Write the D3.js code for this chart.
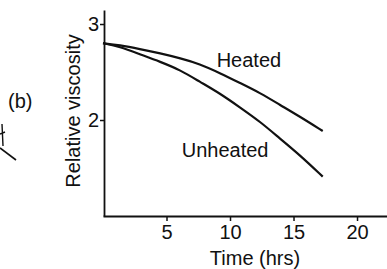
<!DOCTYPE html>
<html><head><meta charset="utf-8">
<script src="https://cdn.jsdelivr.net/npm/d3@7"></script>
<style>
html,body{margin:0;padding:0;background:#fff;}
svg{display:block;}
text{font-family:"Liberation Sans",Arial,sans-serif;fill:#111;}
</style></head>
<body>
<svg id="chart" width="387" height="269"></svg>
<script>
const times = [0, 1.3, 2.9, 4.5, 6.1, 7.6, 9.2, 10.8, 12.4, 13.9, 15.5, 17.3];
const heated = [2.80, 2.78, 2.74, 2.695, 2.643, 2.585, 2.49, 2.385, 2.28, 2.16, 2.035, 1.885];
const unheated = [2.80, 2.765, 2.685, 2.607, 2.52, 2.40, 2.278, 2.13, 1.98, 1.81, 1.635, 1.41];
const xTicks = [5, 10, 15, 20];
const yTicks = [2, 3];
const seriesLabels = ["Heated", "Unheated"];

const svg = d3.select("#chart");
const x = d3.scaleLinear().domain([0, 22.36]).range([103, 387]);
const y = d3.scaleLinear().domain([1, 3.146]).range([216, 10]);

const fs = 20;

// x axis
const gx = svg.append("g").attr("transform", `translate(0,${y(1)})`)
  .call(d3.axisBottom(x).tickValues(xTicks).tickFormat(d3.format("d")).tickSize(5).tickPadding(4).tickSizeOuter(0));
gx.select(".domain").attr("stroke", "#111").attr("stroke-width", 1.8);
gx.selectAll(".tick line").attr("stroke", "#111").attr("stroke-width", 1.5);
gx.selectAll(".tick text").attr("font-size", fs).attr("font-family", "Liberation Sans, Arial, sans-serif").attr("fill", "#111");

// y axis
const gy = svg.append("g").attr("transform", `translate(${x(0)+1},0)`)
  .call(d3.axisLeft(y).tickValues(yTicks).tickFormat(d3.format("d")).tickSize(4).tickPadding(1).tickSizeOuter(0));
gy.select(".domain").attr("stroke", "#111").attr("stroke-width", 1.8);
gy.selectAll(".tick line").attr("stroke", "#111").attr("stroke-width", 1.5);
gy.selectAll(".tick text").attr("font-size", fs).attr("font-family", "Liberation Sans, Arial, sans-serif").attr("fill", "#111");

// curves
const line = d3.line().x((d, i) => x(times[i])).y(d => y(d)).curve(d3.curveBasis);
[heated, unheated].forEach(s => {
  svg.append("path").datum(s).attr("d", line)
    .attr("fill", "none").attr("stroke", "#111").attr("stroke-width", 2.2);
});

// series labels
svg.append("text").attr("x", x(8.95)).attr("y", y(2.55)).attr("font-size", fs).text(seriesLabels[0]);
svg.append("text").attr("x", x(6.2)).attr("y", y(1.615)).attr("font-size", fs).text(seriesLabels[1]);

// axis titles
svg.append("text").attr("x", 255).attr("y", 265).attr("text-anchor", "middle").attr("font-size", fs).text("Time (hrs)");
svg.append("text").attr("transform", "translate(80,111) rotate(-90)").attr("text-anchor", "middle").attr("font-size", fs).text("Relative viscosity");

// panel label
svg.append("text").attr("x", 8).attr("y", 108).attr("font-size", fs).text("(b)");
// handwritten marks at left edge
svg.append("path").attr("d", "M0,134 L5,132 M2,124 L3,146")
  .attr("fill", "none").attr("stroke", "#111").attr("stroke-width", 1.4);
svg.append("line").attr("x1", 0).attr("y1", 148).attr("x2", 16).attr("y2", 160).attr("stroke", "#111").attr("stroke-width", 1.6);
</script>
</body></html>
